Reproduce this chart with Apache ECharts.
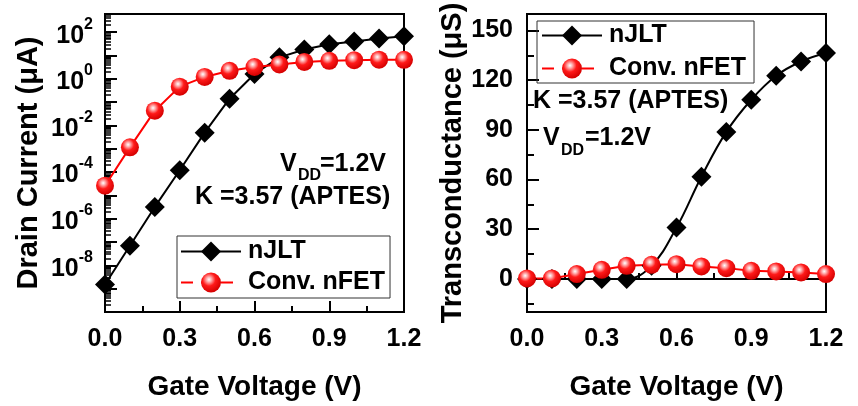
<!DOCTYPE html>
<html><head><meta charset="utf-8">
<script src="https://cdn.jsdelivr.net/npm/echarts@6/dist/echarts.min.js"></script>
<style>html,body{margin:0;padding:0;background:#fff}#c{width:858px;height:406px}</style>
</head><body><div id="c"></div>
<script>
// ---- data ----
const gateVoltage = [0.0, 0.1, 0.2, 0.3, 0.4, 0.5, 0.6, 0.7, 0.8, 0.9, 1.0, 1.1, 1.2];
const drainCurrentJLT = [1.5e-9, 6.9e-8, 3.2e-6, 1.2e-4, 4.9e-3, 0.14, 1.6, 8.3, 18, 30, 40, 54, 66];
const drainCurrentFET = [2.6e-5, 1.15e-3, 0.043, 0.46, 1.2, 2.2, 3.2, 4.1, 5.3, 5.9, 6.3, 6.6, 6.5];
const transcondJLT = [0, 0, 0, 0, 0, 8, 31, 61.7, 88.8, 108.2, 122.7, 131.3, 136.4];
const transcondFET = [0.3, 0.3, 2.9, 5.5, 7.9, 8.5, 8.9, 7.5, 6.5, 4.9, 4.5, 3.9, 2.9];
const logLabelValues = [1e-8, 1e-6, 1e-4, 1e-2, 1, 1e2];
const logMajorTickExps = [-10, -9, -8, -7, -6, -5, -4, -3, -2, -1, 0, 1, 2];
const gmLabelValues = [0, 30, 60, 90, 120, 150];
const gmMinorTicks = [-15, 15, 45, 75, 105, 135];
const seriesNames = ['nJLT', 'Conv. nFET'];

const FONT = "'Liberation Sans', Arial, sans-serif";
const pair = (xs, ys) => xs.map((x, i) => [x, ys[i]]);
const logMajor = logMajorTickExps.map(e => Math.pow(10, e));
const logMinor = [];
logMajorTickExps.forEach(e => { for (let k = 2; k <= 9; k++) { const v = k * Math.pow(10, e); if (v <= 600) logMinor.push(v); } });

const redBall = {
  type: 'radial', x: 0.4, y: 0.35, r: 0.65,
  colorStops: [
    {offset: 0, color: '#ffffff'}, {offset: 0.18, color: '#ffb3b3'},
    {offset: 0.5, color: '#ff1a1a'}, {offset: 1, color: '#d40000'}
  ]
};
const lbl = {color: '#000', fontFamily: FONT, fontWeight: 'bold', fontSize: 25};
const nameStyle = {color: '#000', fontFamily: FONT, fontWeight: 'bold', fontSize: 28};
const yNameStyle = {color: '#000', fontFamily: FONT, fontWeight: 'bold', fontSize: 29};

function xAxis(gi) {
  return {
    type: 'value', gridIndex: gi, min: 0, max: 1.2, interval: 0.3,
    axisLine: {show: true, lineStyle: {color: '#000', width: 2}},
    axisTick: {inside: true, length: 11, lineStyle: {color: '#000', width: 2}},
    minorTick: {show: true, splitNumber: 2, length: 6, lineStyle: {color: '#000', width: 2}},
    splitLine: {show: false},
    axisLabel: Object.assign({margin: 15, formatter: v => v.toFixed(1)}, lbl),
    name: 'Gate Voltage (V)', nameLocation: 'middle', nameGap: 61, nameTextStyle: nameStyle
  };
}

const option = {
  animation: false,
  backgroundColor: '#fff',
  grid: [
    {left: 105, right: 454, top: 14, bottom: 93, show: true, borderColor: '#000', borderWidth: 2},
    {left: 527, right: 32, top: 14, bottom: 93, show: true, borderColor: '#000', borderWidth: 2}
  ],
  xAxis: [xAxis(0), xAxis(1)],
  yAxis: [
    {
      type: 'log', logBase: 10, gridIndex: 0, position: 'left', min: 1e-10, max: 600,
      axisLine: {show: true, lineStyle: {color: '#000', width: 2}},
      axisTick: {inside: true, length: 12, customValues: logMajor, lineStyle: {color: '#000', width: 2}},
      splitLine: {show: false},
      axisLabel: {
        margin: 12, customValues: logLabelValues,
        formatter: v => '{b|10}{s|' + Math.round(Math.log10(v)) + '}',
        rich: {
          b: {fontSize: 25, fontWeight: 'bold', fontFamily: FONT, color: '#000', lineHeight: 32, verticalAlign: 'bottom'},
          s: {fontSize: 16, fontWeight: 'bold', fontFamily: FONT, color: '#000', lineHeight: 16, verticalAlign: 'top'}
        }
      },
      name: 'Drain Current (\u03bcA)', nameLocation: 'middle', nameGap: 62, nameTextStyle: yNameStyle
    },
    {
      type: 'log', logBase: 10, gridIndex: 0, position: 'left', min: 1e-10, max: 600,
      axisLine: {show: false},
      axisTick: {show: true, inside: true, length: 6, customValues: logMinor, lineStyle: {color: '#000', width: 1.5}},
      axisLabel: {show: false}, splitLine: {show: false}
    },
    {
      type: 'value', gridIndex: 1, position: 'left', min: -20, max: 160,
      axisLine: {show: true, lineStyle: {color: '#000', width: 2}},
      axisTick: {inside: true, length: 12, customValues: gmLabelValues, lineStyle: {color: '#000', width: 2}},
      splitLine: {show: false},
      axisLabel: Object.assign({margin: 14, customValues: gmLabelValues}, lbl),
      name: 'Transconductance (\u03bcS)', nameLocation: 'middle', nameGap: 58, nameTextStyle: yNameStyle
    },
    {
      type: 'value', gridIndex: 1, position: 'left', min: -20, max: 160,
      axisLine: {show: false},
      axisTick: {show: true, inside: true, length: 7, customValues: gmMinorTicks, lineStyle: {color: '#000', width: 2}},
      axisLabel: {show: false}, splitLine: {show: false}
    }
  ],
  legend: [
    {
      left: 177, top: 236, orient: 'vertical', itemWidth: 60, itemHeight: 25, itemGap: 6,
      padding: [3, 5, 3, 3], borderColor: '#333', borderWidth: 1, selectedMode: false,
      textStyle: {color: '#000', fontFamily: FONT, fontWeight: 'bold', fontSize: 25, padding: [0, 0, 0, 2]},
      data: [{name: seriesNames[0]}, {name: seriesNames[1], lineStyle: {type: [12, 8]}}]
    },
    {
      left: 537, top: 21, orient: 'vertical', itemWidth: 60, itemHeight: 25, itemGap: 8,
      padding: [2, 8, 2, 4], borderColor: '#333', borderWidth: 1, selectedMode: false,
      textStyle: {color: '#000', fontFamily: FONT, fontWeight: 'bold', fontSize: 25, padding: [0, 0, 0, 2]},
      data: [{name: seriesNames[0]}, {name: seriesNames[1], lineStyle: {type: [12, 8]}}]
    }
  ],
  series: [
    {
      name: seriesNames[0], type: 'line', xAxisIndex: 0, yAxisIndex: 0,
      data: pair(gateVoltage, drainCurrentJLT),
      symbol: 'diamond', symbolSize: 20, itemStyle: {color: '#000'},
      lineStyle: {color: '#000', width: 2}
    },
    {
      name: seriesNames[1], type: 'line', xAxisIndex: 0, yAxisIndex: 0,
      data: pair(gateVoltage, drainCurrentFET),
      symbol: 'circle', symbolSize: 18, itemStyle: {color: redBall},
      lineStyle: {color: '#ff0000', width: 2}
    },
    {
      name: seriesNames[0], type: 'line', xAxisIndex: 1, yAxisIndex: 2,
      data: pair(gateVoltage, transcondJLT), smooth: 0.4,
      symbol: 'diamond', symbolSize: 20, itemStyle: {color: '#000'},
      lineStyle: {color: '#000', width: 2}
    },
    {
      name: seriesNames[1], type: 'line', xAxisIndex: 1, yAxisIndex: 2,
      data: pair(gateVoltage, transcondFET),
      symbol: 'circle', symbolSize: 18, itemStyle: {color: redBall},
      lineStyle: {color: '#ff0000', width: 2}
    }
  ],
  graphic: [
    {type: 'text', x: 280, y: 164.5, style: {text: 'V', font: 'bold 25px ' + FONT, fill: '#000', textAlign: 'left', verticalAlign: 'middle'}},
    {type: 'text', x: 298, y: 176, style: {text: 'DD', font: 'bold 16px ' + FONT, fill: '#000', textAlign: 'left', verticalAlign: 'middle'}},
    {type: 'text', x: 320, y: 164.5, style: {text: '=1.2V', font: 'bold 25px ' + FONT, fill: '#000', textAlign: 'left', verticalAlign: 'middle'}},
    {type: 'text', x: 195, y: 197.5, style: {text: 'K =3.57 (APTES)', font: 'bold 25px ' + FONT, fill: '#000', textAlign: 'left', verticalAlign: 'middle'}},
    {type: 'text', x: 533, y: 101.5, style: {text: 'K =3.57 (APTES)', font: 'bold 25px ' + FONT, fill: '#000', textAlign: 'left', verticalAlign: 'middle'}},
    {type: 'text', x: 543, y: 138, style: {text: 'V', font: 'bold 25px ' + FONT, fill: '#000', textAlign: 'left', verticalAlign: 'middle'}},
    {type: 'text', x: 561, y: 151, style: {text: 'DD', font: 'bold 16px ' + FONT, fill: '#000', textAlign: 'left', verticalAlign: 'middle'}},
    {type: 'text', x: 585, y: 138, style: {text: '=1.2V', font: 'bold 25px ' + FONT, fill: '#000', textAlign: 'left', verticalAlign: 'middle'}}
  ]
};
const chart = echarts.init(document.getElementById('c'), null, {renderer: 'canvas'});
chart.setOption(option);
</script>
</body></html>
